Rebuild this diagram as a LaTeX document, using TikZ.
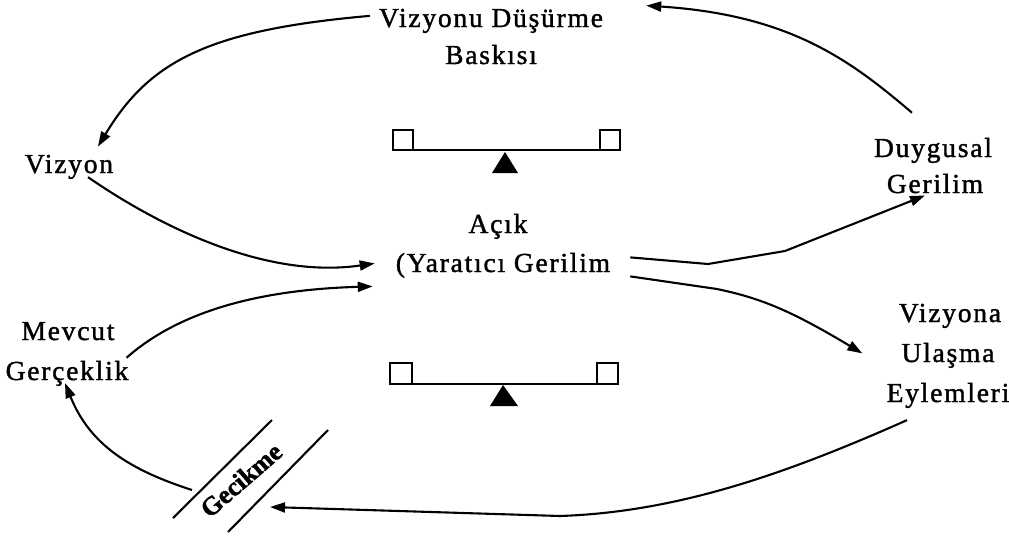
\documentclass[tikz,border=0pt]{standalone}
\usepackage{fontspec}
\setmainfont{Liberation Serif}[LetterSpace=6.5, FakeBold=1.4]
\newfontfamily\delayfont{Liberation Serif Bold}[FakeBold=1.6]
\usetikzlibrary{arrows.meta,calc}
\tikzset{
  lbl/.style={font=\fontsize{27.5}{32}\selectfont, inner sep=0pt, anchor=base},
  link/.style={line width=2.1pt, -{Triangle[length=15pt,width=10pt]}},
  pan/.style={line width=2pt},
  beam/.style={line width=1.6pt},
  delaybar/.style={line width=2.1pt},
  delaytxt/.style={font=\delayfont\fontsize{26}{28}\selectfont, inner sep=0pt, rotate=41}
}
\begin{document}
\begin{tikzpicture}[x=1pt,y=-1pt]
\useasboundingbox (0,0) rectangle (1009,536);

% labels, one node per printed line
\node[lbl] (vdb1) at (491,27) {Vizyonu Düşürme};
\node[lbl] (vdb2) at (491,64) {Baskısı};
\node[lbl] (viz) at (69,173) {Vizyon};
\node[lbl] (dg1) at (933,157) {Duygusal};
\node[lbl] (dg2) at (935,193) {Gerilim};
\node[lbl] (acik1) at (498,233) {Açık};
\node[lbl] (acik2) at (503,272) {(Yaratıcı Gerilim};
\node[lbl] (mg1) at (68,340) {Mevcut};
\node[lbl] (mg2) at (67,380) {Gerçeklik};
\node[lbl] (vu1) at (950,322) {Vizyona};
\node[lbl] (vu2) at (948,362) {Ulaşma};
\node[lbl] (vu3) at (948,402) {Eylemleri};

% delay mark
\node[delaytxt] (gec) at (241,480) {Gecikme};
\draw[delaybar] ($(gec.center)+(-68,38)$) -- ($(gec.center)+(31,-60)$);
\draw[delaybar] ($(gec.center)+(-13,52)$) -- ($(gec.center)+(87,-50)$);

% upper balance
\draw[pan] (393,130) rectangle (413,150);
\draw[pan] (600,130) rectangle (620,150);
\draw[beam] (413,150) -- (600,150);
\fill (505,152) -- (492,173) -- (518,173) -- cycle;

% lower balance
\draw[pan] (390,363) rectangle (412,384);
\draw[pan] (597,363) rectangle (618,384);
\draw[beam] (412,384) -- (597,384);
\fill (503,385) -- (490,406) -- (518,406) -- cycle;

% connectors
\draw[link] ($(vdb1.west)+(-9,-5)$) .. controls (210,30) and (150,60) .. ($(viz.north)+(29,-8)$);
\draw[link] ($(viz.south)+(19,-2)$) .. controls (150,220) and (260,280) .. ($(acik2.west)+(-21,-2)$);
\draw[link] ($(mg2.north east)+(-2,-3)$) .. controls (175,315) and (250,290) .. ($(acik2.west)+(-23,21)$);
\draw[link] ($(acik2.east)+(20,-8)$) -- (708,264) -- (785,251) -- ($(dg2.south)+(-10,2)$);
\draw[link] ($(acik2.east)+(20,11)$) -- (717,289) .. controls (760,298) and (790,310) .. ($(vu2.west)+(-39,-2)$);
\draw[link] ($(dg1.north)+(-21,-25)$) .. controls (850,60) and (790,15) .. ($(vdb1.north east)+(43,-3)$);
\draw[link] ($(vu3.south)+(-41,12)$) .. controls (790,472) and (680,512) .. (560,516)
            -- ($(gec.center)+(29,27)$);
\draw[link] ($(gec.center)+(-49,10)$) .. controls (130,470) and (90,445) .. ($(mg2.south)+(-2,-3)$);
\end{tikzpicture}
\end{document}
